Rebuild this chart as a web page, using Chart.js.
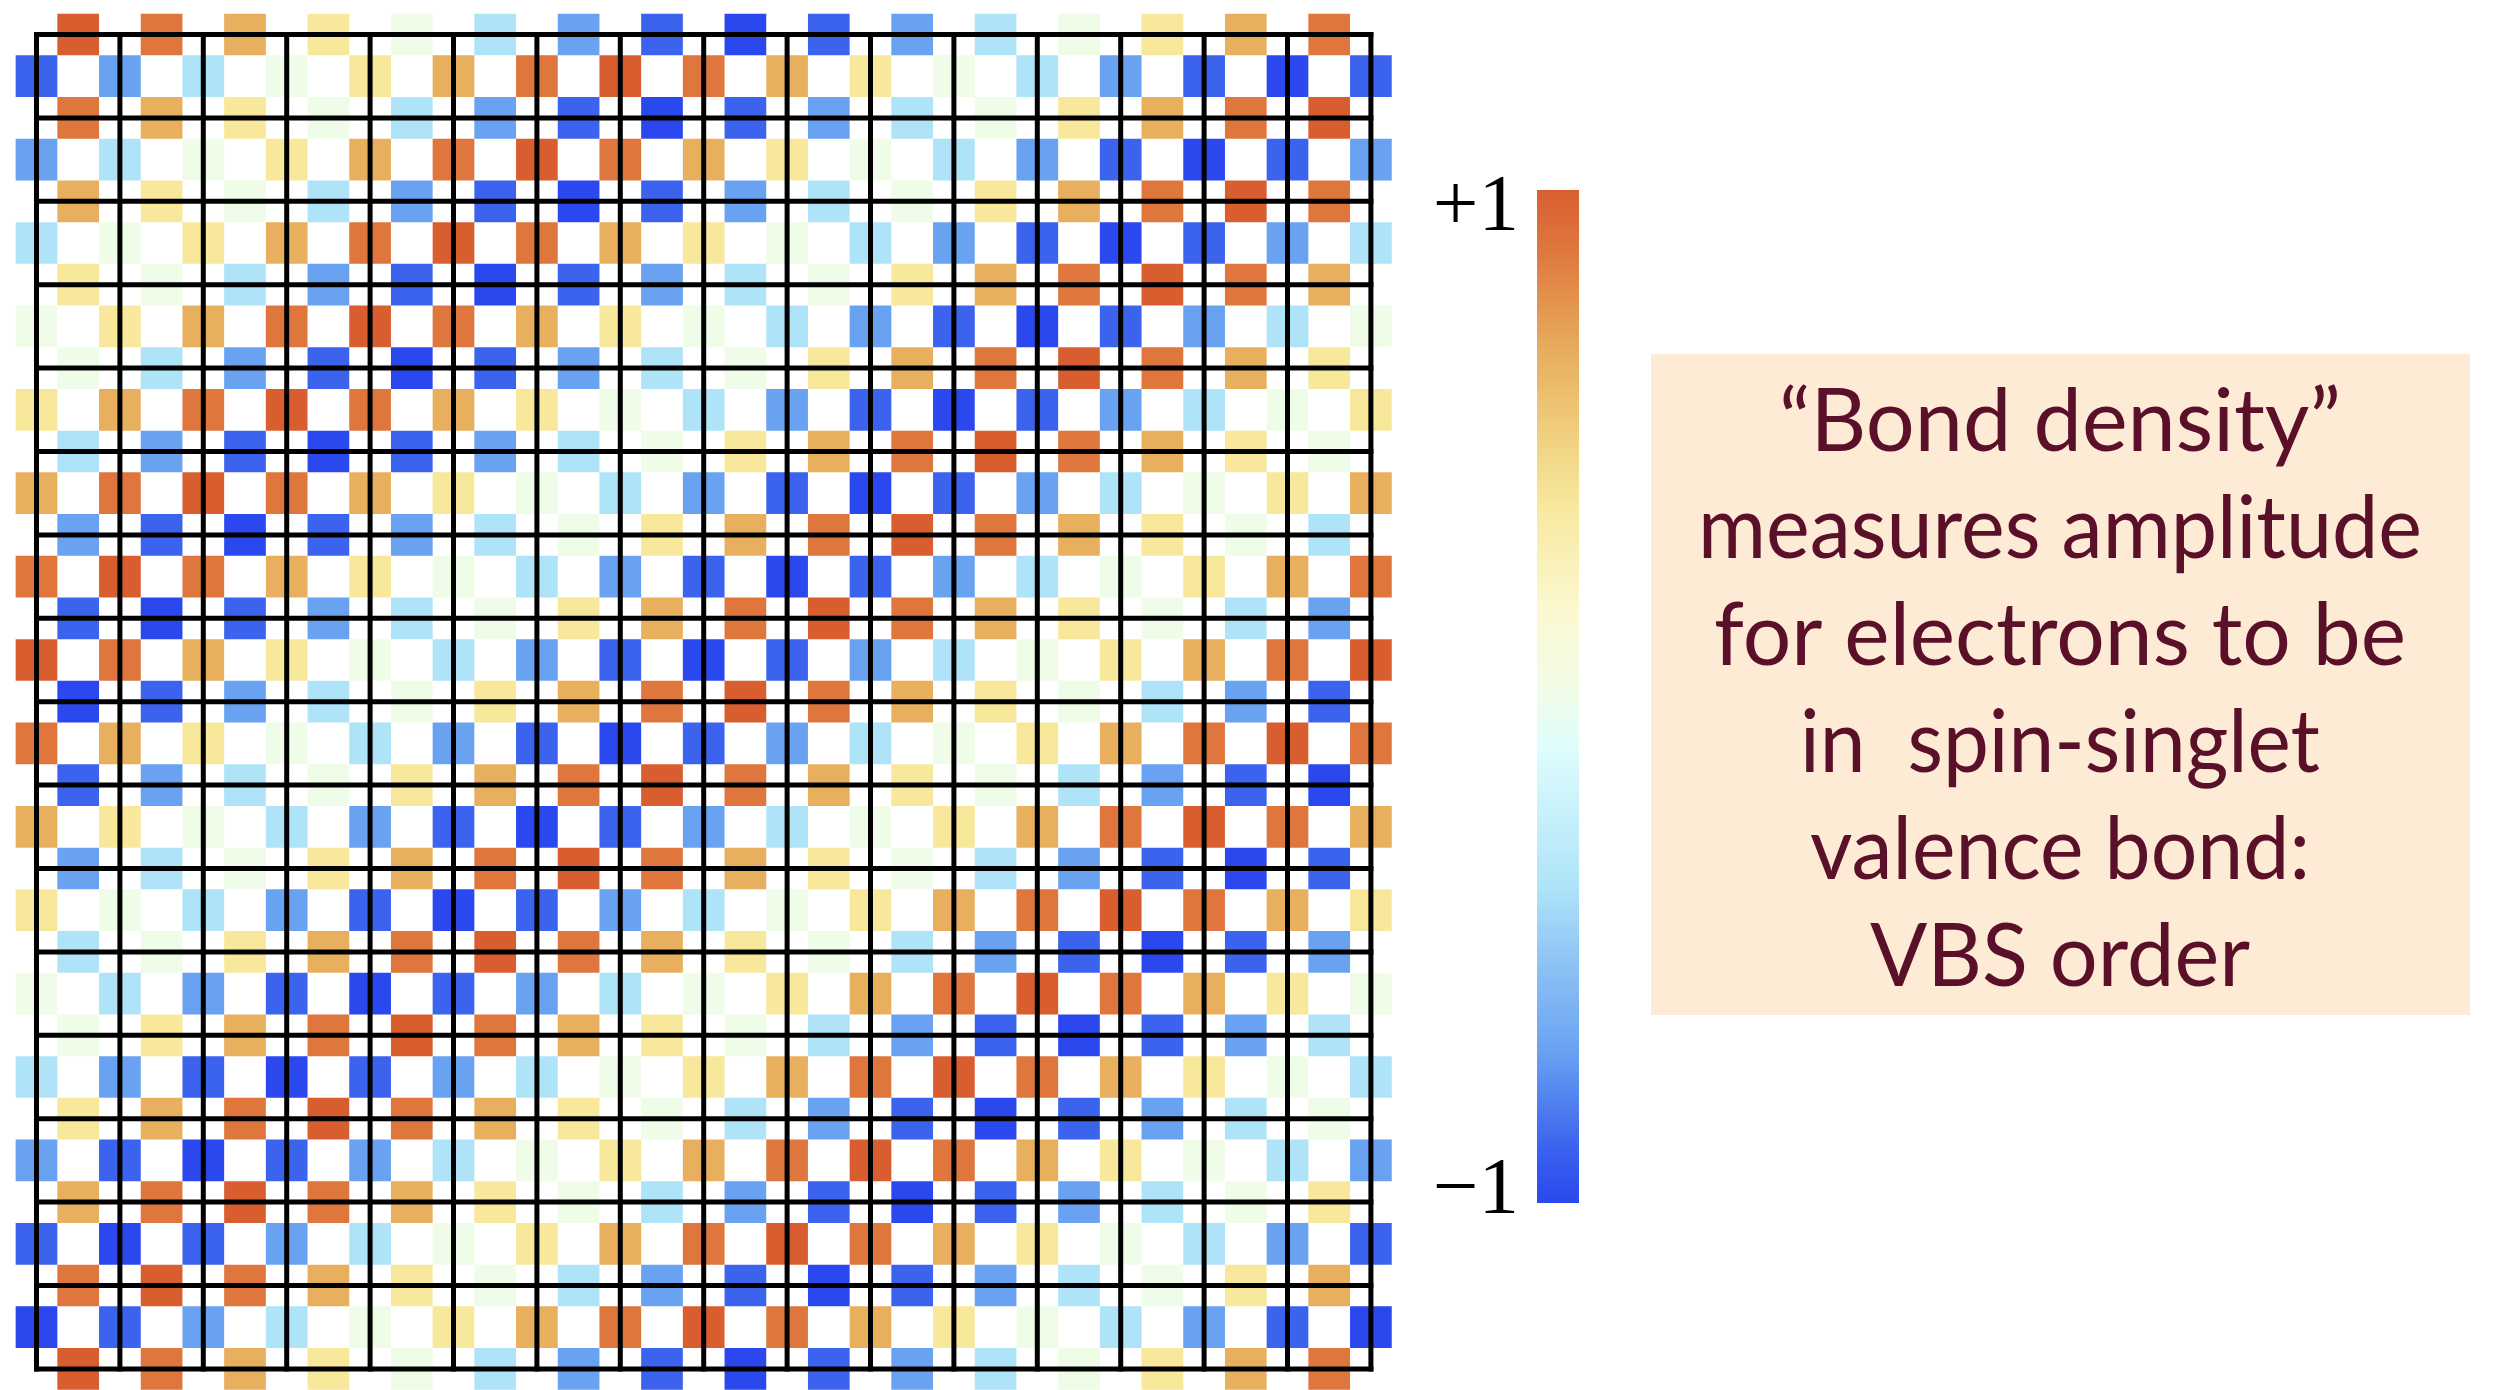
<!DOCTYPE html>
<html>
<head>
<meta charset="utf-8">
<script src="https://cdn.jsdelivr.net/npm/chart.js@4.4.0/dist/chart.umd.min.js"></script>
<style>
  html, body { margin: 0; background: #fff; overflow: hidden; }
  canvas { display: block; }
</style>
</head>
<body>
<canvas id="lattice" width="2495" height="1390"></canvas>
<script>
/* DATA */
// bond amplitude levels, read off the colour scale
const levelValues = [-1, -0.92, -0.71, -0.38, 0, 0.38, 0.71, 0.92, 1];

// horizontal bonds: one string per lattice row (0..16), one digit per column (index into levelValues)
const hBondRows = [
  "8765432101234567",
  "7654321012345678",
  "6543210123456787",
  "5432101234567876",
  "4321012345678765",
  "3210123456787654",
  "2101234567876543",
  "1012345678765432",
  "0123456787654321",
  "1234567876543210",
  "2345678765432101",
  "3456787654321012",
  "4567876543210123",
  "5678765432101234",
  "6787654321012345",
  "7876543210123456",
  "8765432101234567"
];

// vertical bonds: one string per cell row (0..15), one digit per lattice column (0..16)
const vBondRows = [
  "12345678765432101",
  "23456787654321012",
  "34567876543210123",
  "45678765432101234",
  "56787654321012345",
  "67876543210123456",
  "78765432101234567",
  "87654321012345678",
  "76543210123456787",
  "65432101234567876",
  "54321012345678765",
  "43210123456787654",
  "32101234567876543",
  "21012345678765432",
  "10123456787654321",
  "01234567876543210"
];

const latticeSize = 16;
const scaleLabels = ["+1", "\u22121"];
const noteLines = [
  "\u201CBond density\u201D",
  "measures amplitude",
  "for electrons to be",
  "in  spin-singlet",
  "valence bond:",
  "VBS order"
];

/* COLOUR */
const levelColors = ["#2b48ef", "#3b63ee", "#6aa2f2", "#aee3f8", "#effce8",
                     "#f8e89c", "#e8b05e", "#de763d", "#d85e30"];
function colorFor(v) {
  return levelColors[levelValues.indexOf(v)];
}

/* BUILD POINTS */
const bonds = [];
hBondRows.forEach((row, r) => {
  row.split("").forEach((ch, c) => bonds.push({ x: c + 0.5, y: r, v: levelValues[+ch] }));
});
vBondRows.forEach((row, r) => {
  row.split("").forEach((ch, c) => bonds.push({ x: c, y: r + 0.5, v: levelValues[+ch] }));
});

const gridSets = [];
for (let i = 0; i <= latticeSize; i++) {
  gridSets.push({ data: [{ x: i, y: 0 }, { x: i, y: latticeSize }] });
  gridSets.push({ data: [{ x: 0, y: i }, { x: latticeSize, y: i }] });
}

/* DECOR (colour bar, labels, note box) */
const decor = {
  id: "decor",
  afterDraw(chart) {
    const ctx = chart.ctx;
    ctx.save();

    const g = ctx.createLinearGradient(0, 190, 0, 1203);
    [[0, "#d85e30"], [0.064, "#df7a40"], [0.155, "#e7ab5c"], [0.24, "#f0cf7e"],
     [0.31, "#f7e89c"], [0.41, "#fcf8cf"], [0.49, "#f2fce6"], [0.55, "#dffdfd"],
     [0.69, "#ade3f8"], [0.77, "#8bc0f5"], [0.85, "#6aa2f2"], [0.945, "#3b63ee"],
     [1, "#2a48ef"]].forEach(s => g.addColorStop(s[0], s[1]));
    ctx.fillStyle = g;
    ctx.fillRect(1537, 190, 42, 1013);

    ctx.fillStyle = "#000";
    ctx.font = '81px "Liberation Serif", "DejaVu Serif", serif';
    ctx.textAlign = "right";
    ctx.textBaseline = "alphabetic";
    ctx.fillText(scaleLabels[0], 1519, 230);
    ctx.fillText(scaleLabels[1], 1519, 1213);

    ctx.fillStyle = "#fdebd5";
    ctx.fillRect(1651, 354, 819, 661);

    const widths = [562, 724, 692, 520, 500, 380];
    ctx.fillStyle = "#5a1029";
    ctx.font = '87px Lato, "Open Sans", sans-serif';
    ctx.textAlign = "center";
    noteLines.forEach((t, i) => ctx.fillText(t, 2060, 451 + i * 107, widths[i]));

    ctx.restore();
  }
};

/* CHART */
new Chart(document.getElementById("lattice"), {
  type: "scatter",
  data: {
    datasets: [
      ...gridSets.map(d => ({
        data: d.data,
        showLine: true,
        borderColor: "#000",
        borderWidth: 5,
        borderCapStyle: "square",
        pointRadius: 0,
        order: 0,
        clip: false
      })),
      {
        data: bonds,
        pointStyle: "rect",
        pointRadius: c => {
          const s = c.chart.scales.x;
          return (s.getPixelForValue(0.5) - s.getPixelForValue(0)) / Math.SQRT2;
        },
        pointBorderWidth: 0,
        backgroundColor: c => colorFor(c.raw.v),
        borderColor: c => colorFor(c.raw.v),
        order: 1,
        clip: false
      }
    ]
  },
  options: {
    responsive: false,
    animation: false,
    devicePixelRatio: 1,
    layout: { autoPadding: false, padding: { left: 15.65, right: 1103.25, top: 13.65, bottom: 0.25 } },
    plugins: { legend: { display: false }, tooltip: { enabled: false } },
    scales: {
      x: { type: "linear", min: -0.25, max: 16.25, display: false },
      y: { type: "linear", min: -0.25, max: 16.25, reverse: true, display: false }
    }
  },
  plugins: [decor]
});
</script>
</body>
</html>
